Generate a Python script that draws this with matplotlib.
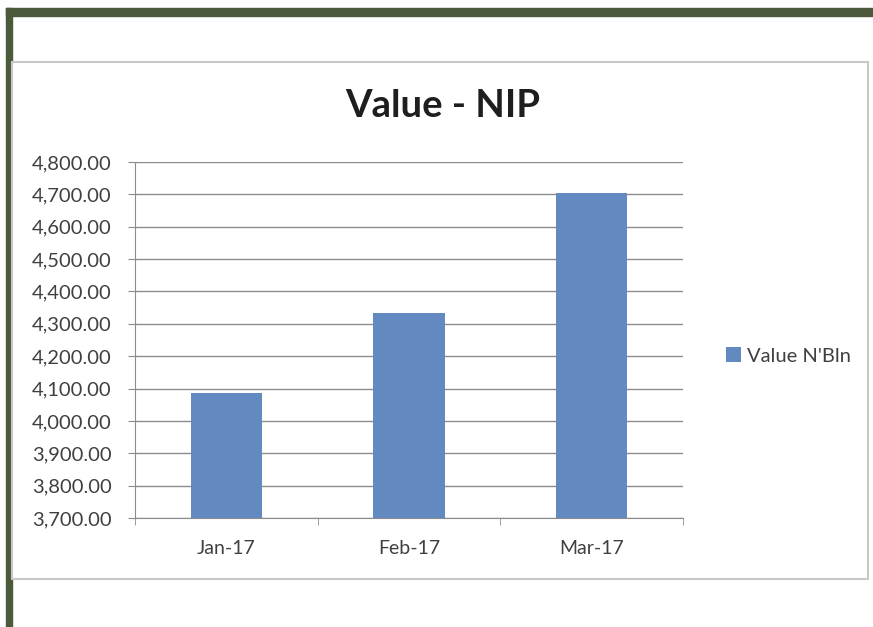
import matplotlib.pyplot as plt
from matplotlib.patches import Rectangle
from matplotlib.ticker import FuncFormatter, FixedLocator
import numpy as np

months = ['Jan-17', 'Feb-17', 'Mar-17']
values = [4086, 4334, 4703]
series_name = "Value N'Bln"
title = 'Value - NIP'

plt.rcParams['font.family'] = ['Lato', 'DejaVu Sans']

W, H = 873, 627
fig = plt.figure(figsize=(W / 100, H / 100), dpi=100)

# green frame (top + left) and chart area box
green = '#4b5a3b'
fig.patches.append(Rectangle((6 / W, 0), 6 / W, 1 - 8 / H, transform=fig.transFigure,
                             color=green, zorder=-2))
fig.patches.append(Rectangle((6 / W, 1 - 16 / H), 1, 8 / H, transform=fig.transFigure,
                             color=green, zorder=-2))
fig.patches.append(Rectangle((12 / W, 1 - 579 / H), 856 / W, 517 / H, transform=fig.transFigure,
                             facecolor='white', edgecolor='#c8c8c8', lw=1.5, zorder=-1))

ax = fig.add_axes([135 / W, 1 - 518 / H, 548 / W, 356 / H])
ax.set_zorder(1)
ax.patch.set_alpha(0)
x = np.arange(len(months))
ax.bar(x, values, width=0.39, color='#6389c1', zorder=3, label=series_name)
ax.set_xlim(-0.5, 2.5)
ax.set_ylim(3700, 4800)
ax.set_yticks(np.arange(3700, 4801, 100))
ax.yaxis.set_major_formatter(FuncFormatter(lambda v, p: f'{v:,.2f}'))
ax.grid(axis='y', color='#8c8c8c', lw=1, zorder=1)
ax.set_xticks(x)
ax.set_xticklabels(months)
ax.xaxis.set_minor_locator(FixedLocator([-0.5, 0.5, 1.5, 2.5]))
ax.tick_params(axis='x', which='major', length=0, pad=16, labelsize=14, labelcolor='#404040')
ax.tick_params(axis='x', which='minor', length=5, color='#8c8c8c')
ax.tick_params(axis='y', length=5, color='#8c8c8c', labelsize=14.5, labelcolor='#404040', pad=12)
for s in ['top', 'right']:
    ax.spines[s].set_visible(False)
for s in ['left', 'bottom']:
    ax.spines[s].set_color('#8c8c8c')

fig.text(443 / W, 1 - 106 / H, title, ha='center', va='center', fontsize=27.5,
         fontweight='bold', color='#1e1e1e', zorder=2)

ax.legend(loc='center left', bbox_to_anchor=(708 / W, 1 - 356 / H),
          bbox_transform=fig.transFigure, frameon=False, fontsize=14.5,
          handlelength=0.75, handleheight=0.75, handletextpad=0.3,
          labelcolor='#404040')

fig.savefig('out.png', dpi=100)
